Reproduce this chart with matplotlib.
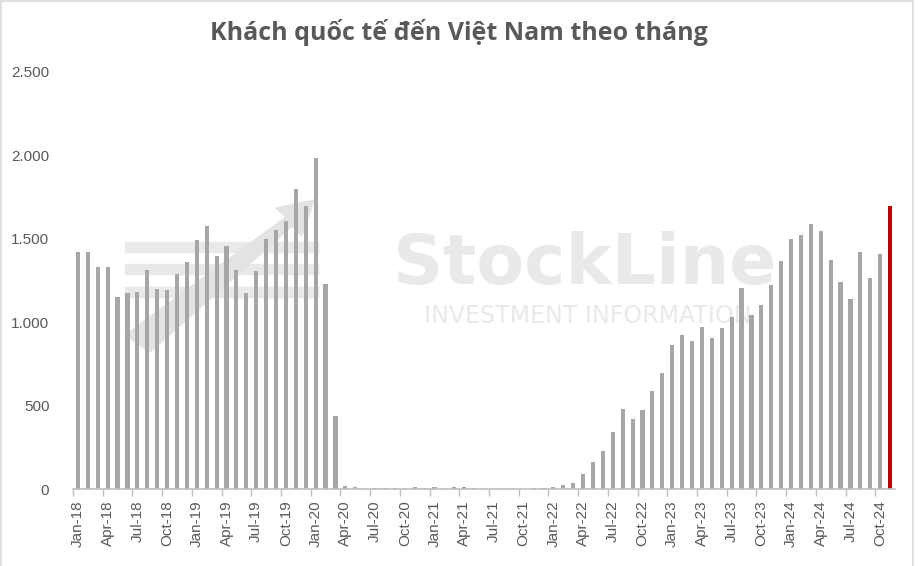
import matplotlib
matplotlib.use("Agg")
import matplotlib.pyplot as plt
from matplotlib.patches import Rectangle, Polygon
from matplotlib.ticker import FuncFormatter

# monthly international arrivals to Vietnam (thousand), Jan-18 .. Nov-24
months = []
for yr in range(18, 25):
    for m in ["Jan", "Feb", "Mar", "Apr", "May", "Jun",
              "Jul", "Aug", "Sep", "Oct", "Nov", "Dec"]:
        months.append("%s-%d" % (m, yr))
months = months[:83]

v2018 = [1420, 1420, 1332, 1332, 1152, 1176, 1182, 1314, 1200, 1194, 1290, 1362]
v2019 = [1494, 1578, 1398, 1458, 1314, 1176, 1308, 1500, 1554, 1608, 1800, 1698]
v2020 = [1986, 1230, 438, 18, 12, 0, 4, 4, 4, 4, 12, 4]
v2021 = [12, 0, 12, 12, 4, 0, 0, 0, 0, 0, 4, 6]
v2022 = [12, 24, 36, 92, 164, 230, 344, 482, 422, 476, 590, 698]
v2023 = [866, 926, 890, 972, 906, 966, 1032, 1206, 1044, 1104, 1224, 1364]
v2024 = [1500, 1524, 1590, 1548, 1374, 1242, 1140, 1422, 1266, 1410, 1698]

values = v2018 + v2019 + v2020 + v2021 + v2022 + v2023 + v2024
highlight = "Nov-24"

grey = "#a6a6a6"
red = "#c00000"
text_col = "#595959"

fig = plt.figure(figsize=(9.18, 5.66), dpi=100)
ax = fig.add_axes([0.0795, 0.136, 0.8955, 0.7368])
ax.set_zorder(5)
ax.set_facecolor("none")

# watermark (sits behind the bars)
wm = "#e9e9e9"
for yy in [242, 264, 287]:
    fig.patches.append(Rectangle((125 / 918, 1 - (yy + 10) / 566), 193 / 918, 10 / 566,
                                 transform=fig.transFigure, color=wm, zorder=0))
arrow = [(125, 335), (150, 352), (292, 226), (302, 236), (314, 200), (276, 208), (286, 217)]
fig.patches.append(Polygon([(x / 918, 1 - y / 566) for x, y in arrow], closed=True,
                           transform=fig.transFigure, color="#e3e3e3", zorder=0))
fig.text(585 / 918, 1 - 284 / 566, "StockLine", ha="center", va="baseline",
         fontsize=50, fontweight="bold", color=wm, family="DejaVu Sans", zorder=0)
fig.text(588 / 918, 1 - 323 / 566, "INVESTMENT INFORMATION", ha="center", va="baseline",
         fontsize=17, color=wm, family="DejaVu Sans", zorder=0)

colors = [red if m == highlight else grey for m in months]
x = list(range(len(months)))
ax.bar(x, values, width=0.42, color=colors, zorder=2)

ax.set_xlim(-0.5, len(months) - 0.5)
ax.set_ylim(0, 2500)
ax.set_yticks([0, 500, 1000, 1500, 2000, 2500])
ax.yaxis.set_major_formatter(FuncFormatter(lambda v, p: "{:,.0f}".format(v).replace(",", ".")))

ax.set_xticks(x[::3])
ax.set_xticklabels(months[::3], rotation=90)
ax.set_xticks([i - 0.5 for i in x[::3]], minor=True)
ax.tick_params(axis="x", which="major", length=0, pad=8)
ax.tick_params(axis="x", which="minor", length=5, color="#bfbfbf", width=1)
ax.tick_params(axis="y", length=0, pad=17)
for lab in ax.get_xticklabels() + ax.get_yticklabels():
    lab.set_fontsize(11)
    lab.set_color(text_col)
    lab.set_family("Liberation Sans")

for s in ["top", "right", "left"]:
    ax.spines[s].set_visible(False)
ax.spines["bottom"].set_color("#bfbfbf")
ax.spines["bottom"].set_linewidth(1.2)

fig.text(0.5, 1 - 33 / 566, "Khách quốc tế đến Việt Nam theo tháng", ha="center",
         va="center", fontsize=18, fontweight="bold", color=text_col, family="Open Sans")

# frame of the chart area
fig.patches.append(Rectangle((0.001, -0.01), 0.994, 1.008, transform=fig.transFigure,
                             fill=False, edgecolor="#d9d9d9", linewidth=1.2))

fig.savefig("out.png", dpi=100)
